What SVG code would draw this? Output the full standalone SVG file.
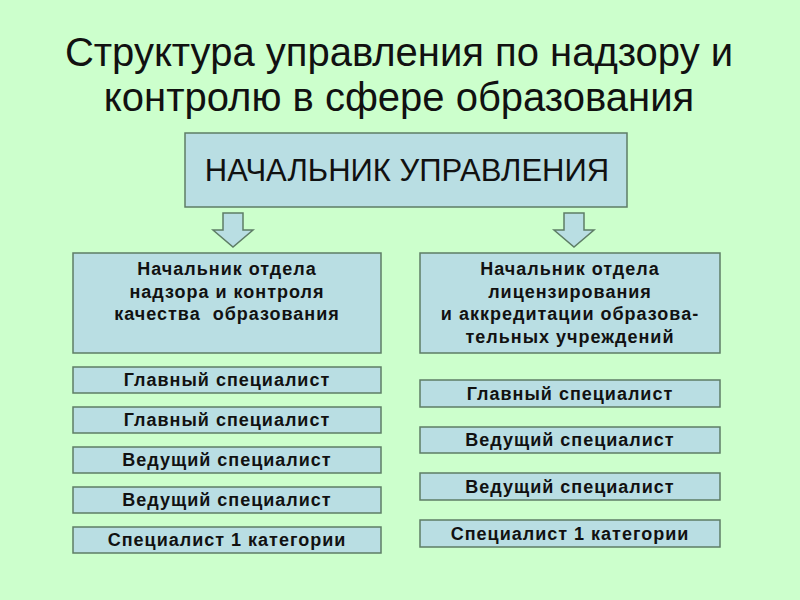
<svg xmlns="http://www.w3.org/2000/svg" width="800" height="600" viewBox="0 0 800 600">
<style>
.bx{fill:#B9DEE3;stroke:#5E7D66;stroke-width:1.5}
.t{font-family:"Liberation Sans",Arial,sans-serif;fill:#111;text-anchor:middle}
.b{font-weight:bold;font-size:18px;letter-spacing:1px;white-space:pre}
.ttl{font-size:40px}
.arr{fill:#B9DEE3;stroke:#5E7D66;stroke-width:1.5;stroke-linejoin:miter}
</style>
<rect width="800" height="600" fill="#CCFFCC"/>
<g id="title">
<text class="t ttl" x="399" y="66">Структура управления по надзору и</text>
<text class="t ttl" x="399" y="111">контролю в сфере образования</text>
</g>
<g id="head">
<rect class="bx" x="185" y="133" width="442" height="74"/>
<text class="t" x="407" y="181" font-size="31">НАЧАЛЬНИК УПРАВЛЕНИЯ</text>
</g>
<g id="connectors">
<path class="arr" d="M223,213 H243 V230 H253 L233,247 L213,230 H223 Z"/>
<path class="arr" d="M564,213 H584 V230 H594 L574,247 L554,230 H564 Z"/>
</g>
<g id="dept1">
<rect class="bx" x="73" y="253" width="308" height="100"/>
<text class="t b" x="227" y="275">Начальник отдела</text>
<text class="t b" x="227" y="297.5">надзора и контроля</text>
<text class="t b" x="227" y="320" xml:space="preserve">качества  образования</text>
</g>
<g id="dept2">
<rect class="bx" x="420" y="253" width="300" height="100"/>
<text class="t b" x="570" y="275">Начальник отдела</text>
<text class="t b" x="570" y="297.5">лицензирования</text>
<text class="t b" x="570" y="320">и аккредитации образова-</text>
<text class="t b" x="570" y="342.5">тельных учреждений</text>
</g>
<g id="l1"><rect class="bx" x="73" y="367" width="308" height="26"/><text class="t b" x="227" y="386">Главный специалист</text></g>
<g id="l2"><rect class="bx" x="73" y="407" width="308" height="26"/><text class="t b" x="227" y="426">Главный специалист</text></g>
<g id="l3"><rect class="bx" x="73" y="447" width="308" height="26"/><text class="t b" x="227" y="466">Ведущий специалист</text></g>
<g id="l4"><rect class="bx" x="73" y="487" width="308" height="26"/><text class="t b" x="227" y="506">Ведущий специалист</text></g>
<g id="l5"><rect class="bx" x="73" y="527" width="308" height="26"/><text class="t b" x="227" y="546">Специалист 1 категории</text></g>
<g id="r1"><rect class="bx" x="420" y="380" width="300" height="27"/><text class="t b" x="570" y="400">Главный специалист</text></g>
<g id="r2"><rect class="bx" x="420" y="427" width="300" height="26"/><text class="t b" x="570" y="446">Ведущий специалист</text></g>
<g id="r3"><rect class="bx" x="420" y="473" width="300" height="27"/><text class="t b" x="570" y="493">Ведущий специалист</text></g>
<g id="r4"><rect class="bx" x="420" y="520" width="300" height="27"/><text class="t b" x="570" y="540">Специалист 1 категории</text></g>
</svg>
